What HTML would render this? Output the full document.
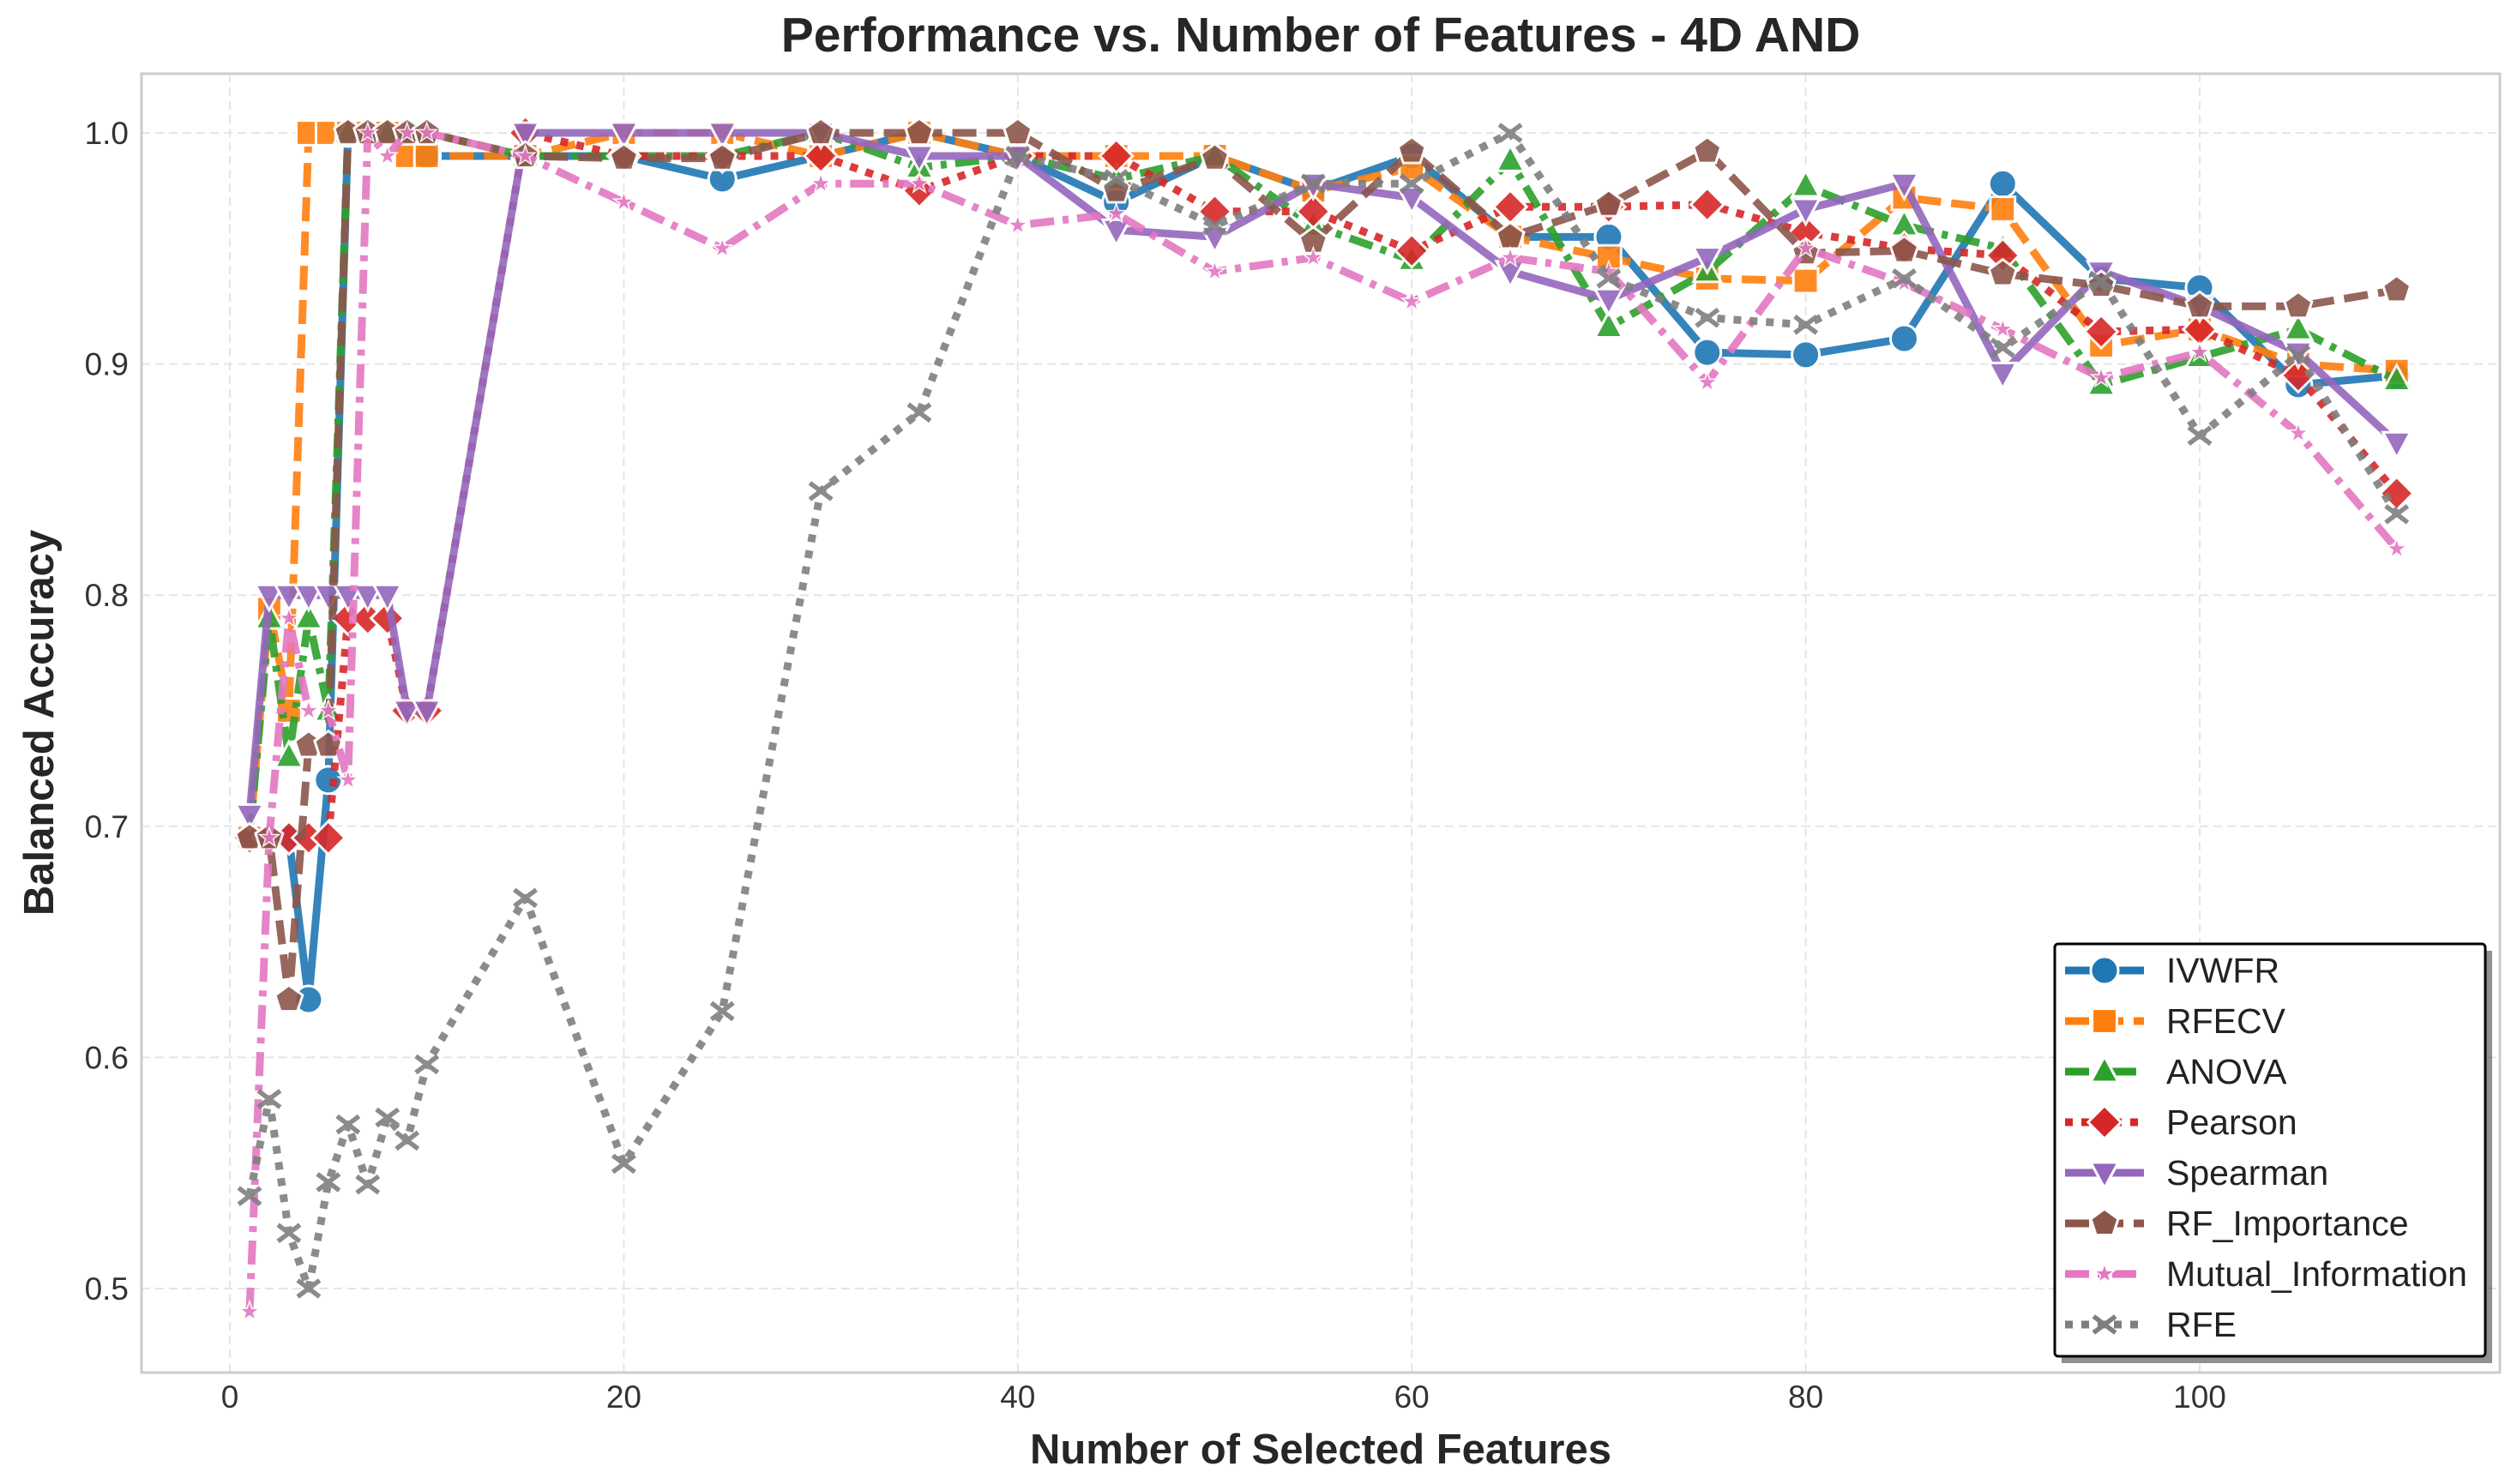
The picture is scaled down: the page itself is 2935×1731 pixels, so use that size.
<!DOCTYPE html>
<html><head><meta charset="utf-8"><style>
body{margin:0;background:#fff;}
svg{display:block;font-family:"Liberation Sans",sans-serif;}
</style></head><body>
<svg id="chart" width="2935" height="1731" viewBox="0 0 2935 1731" xmlns="http://www.w3.org/2000/svg">
<rect width="2935" height="1731" fill="#fff"/>
<text x="1540" y="60" text-anchor="middle" font-size="57" font-weight="bold" fill="#262626">Performance vs. Number of Features - 4D AND</text>
<g id="grid"></g>
<rect x="165" y="86" width="2750" height="1515" fill="none" stroke="#cccccc" stroke-width="3"/>
<g id="series"></g>
<g id="ticks"></g>
<text x="1540" y="1707" text-anchor="middle" font-size="49" font-weight="bold" fill="#262626">Number of Selected Features</text>
<text transform="translate(62,843) rotate(-90)" text-anchor="middle" font-size="49" font-weight="bold" fill="#262626">Balanced Accuracy</text>
<g id="legend"></g>
</svg>
<script>
const xs=[1,2,3,4,5,6,7,8,9,10,15,20,25,30,35,40,45,50,55,60,65,70,75,80,85,90,95,100,105,110];
const ivwfr=[0.695,0.695,0.695,0.625,0.72,1.0,1.0,1.0,1.0,0.99,0.99,0.99,0.98,0.99,1.0,0.99,0.97,0.99,0.975,0.99,0.955,0.955,0.905,0.904,0.911,0.978,0.937,0.933,0.891,0.895];
const rfecv=[0.695,0.794,0.75,1.0,1.0,1.0,1.0,1.0,0.99,0.99,0.99,1.0,1.0,0.99,1.0,0.99,0.99,0.99,0.975,0.985,0.955,0.946,0.937,0.936,0.972,0.967,0.908,0.915,0.9,0.897];
const anova=[0.695,0.79,0.73,0.79,0.75,1.0,1.0,1.0,1.0,1.0,0.99,0.99,0.99,1.0,0.985,0.99,0.98,0.99,0.96,0.945,0.988,0.916,0.94,0.977,0.96,0.95,0.891,0.903,0.915,0.893];
const pearson=[0.695,0.695,0.695,0.695,0.695,0.79,0.79,0.79,0.75,0.75,1.0,0.99,0.99,0.99,0.975,0.99,0.99,0.966,0.966,0.949,0.968,0.968,0.969,0.957,0.95,0.947,0.914,0.915,0.895,0.844];
const spearman=[0.705,0.8,0.8,0.8,0.8,0.8,0.8,0.8,0.75,0.75,1.0,1.0,1.0,1.0,0.99,0.99,0.958,0.955,0.978,0.972,0.94,0.928,0.946,0.967,0.978,0.896,0.94,0.925,0.905,0.866];
const rfImp=[0.695,0.695,0.625,0.735,0.735,1.0,1.0,1.0,1.0,1.0,0.99,0.989,0.989,1.0,1.0,1.0,0.975,0.989,0.953,0.992,0.955,0.969,0.992,0.948,0.949,0.939,0.934,0.925,0.925,0.932];
const mutual=[0.49,0.695,0.79,0.75,0.75,0.72,1.0,0.99,1.0,1.0,0.99,0.97,0.95,0.978,0.978,0.96,0.965,0.94,0.946,0.927,0.946,0.94,0.892,0.95,0.935,0.915,0.894,0.905,0.87,0.82];
const rfe=[0.54,0.582,0.524,0.5,0.546,0.571,0.545,0.574,0.564,0.597,0.669,0.554,0.62,0.845,0.879,0.99,0.98,0.96,0.978,0.978,1.0,0.937,0.92,0.917,0.937,0.907,0.936,0.869,0.904,0.835];
const xTicks=[0,20,40,60,80,100];
const yTicks=[0.5,0.6,0.7,0.8,0.9,1.0];
const names=["IVWFR","RFECV","ANOVA","Pearson","Spearman","RF_Importance","Mutual_Information","RFE"];

const X=v=>268+(v-0)*22.97;
const Y=v=>155+(1.0-v)*2696;
const NS="http://www.w3.org/2000/svg";
function mk(t,a,p){const e=document.createElementNS(NS,t);for(const k in a)e.setAttribute(k,a[k]);p.appendChild(e);return e;}
const grid=document.getElementById('grid'),ticks=document.getElementById('ticks'),ser=document.getElementById('series'),leg=document.getElementById('legend');
xTicks.forEach(t=>{
  const l=mk('line',{x1:X(t),x2:X(t),y1:86,y2:1601,stroke:'#e5e5e5','stroke-width':2,'stroke-dasharray':'10,6'},grid);
  
  
  const tx=mk('text',{x:X(t),y:1642,'text-anchor':'middle','font-size':37,fill:'#333'},ticks);tx.textContent=t;
  
  
});
yTicks.forEach(t=>{
  const l=mk('line',{x1:165,x2:2915,y1:Y(t),y2:Y(t),stroke:'#e5e5e5','stroke-width':2,'stroke-dasharray':'10,6'},grid);
  
  
  const tx=mk('text',{x:150,y:Y(t)+13,'text-anchor':'end','font-size':37,fill:'#333'},ticks);tx.textContent=t.toFixed(1);
  
  
});
function marker(kind,cx,cy,c,p,s){
  s=s||16;let e;
  const pts=a=>a.map(q=>(cx+q[0]*s)+','+(cy+q[1]*s)).join(' ');
  const st={fill:c,stroke:'#fff','stroke-width':3};
  if(kind==='o')e=mk('circle',Object.assign({cx:cx,cy:cy,r:s},st),p);
  else if(kind==='s')e=mk('rect',Object.assign({x:cx-s*0.9,y:cy-s*0.9,width:s*1.8,height:s*1.8},st),p);
  else if(kind==='^')e=mk('polygon',Object.assign({points:pts([[0,-1.1],[1,0.75],[-1,0.75]])},st),p);
  else if(kind==='v')e=mk('polygon',Object.assign({points:pts([[0,1.1],[1,-0.75],[-1,-0.75]])},st),p);
  else if(kind==='D')e=mk('polygon',Object.assign({points:pts([[0,-1.2],[1.2,0],[0,1.2],[-1.2,0]])},st),p);
  else if(kind==='p'){const a=[];for(let i=0;i<5;i++){const t=-Math.PI/2+i*2*Math.PI/5;a.push([Math.cos(t)*1.05,Math.sin(t)*1.05]);}e=mk('polygon',Object.assign({points:pts(a)},st),p);}
  else if(kind==='*'){const a=[];for(let i=0;i<10;i++){const t=-Math.PI/2+i*Math.PI/5,r=i%2?0.4:1;a.push([Math.cos(t)*r*0.75,Math.sin(t)*r*0.75]);}e=mk('polygon',Object.assign({points:pts(a)},st,{'stroke-width':1.5}),p);}
  else if(kind==='x'){e=mk('path',{d:`M${cx-s*0.8},${cy-s*0.6}L${cx+s*0.8},${cy+s*0.6}M${cx-s*0.8},${cy+s*0.6}L${cx+s*0.8},${cy-s*0.6}`,stroke:c,'stroke-width':5.5,fill:'none'},p);}
  return e;
}
const series=[
 {d:ivwfr,c:'#1f77b4',dash:'',m:'o'},
 {d:rfecv,c:'#ff7f0e',dash:'28,12',m:'s'},
 {d:anova,c:'#2ca02c',dash:'28,10,7,10',m:'^'},
 {d:pearson,c:'#d62728',dash:'9,10',m:'D'},
 {d:spearman,c:'#9467bd',dash:'',m:'v'},
 {d:rfImp,c:'#8c564b',dash:'28,12',m:'p'},
 {d:mutual,c:'#e377c2',dash:'28,10,7,10',m:'*'},
 {d:rfe,c:'#7f7f7f',dash:'9,10',m:'x'}
];
series.forEach((s,i)=>{
  const g=mk('g',{opacity:0.9},ser);
  
  
  const pl=mk('polyline',{points:s.d.map((v,j)=>X(xs[j])+','+Y(v)).join(' '),fill:'none',stroke:s.c,'stroke-width':9,'stroke-dasharray':s.dash,'stroke-linejoin':'round'},g);
  
  
  s.d.forEach((v,j)=>{
    const e=marker(s.m,X(xs[j]),Y(v),s.c,g);
    
    
  });
});
// legend
mk('rect',{x:2404,y:1109,width:502,height:481,fill:'#222',opacity:0.5},leg);
const box=mk('rect',{x:2396,y:1101,width:502,height:481,fill:'#fff',stroke:'#000','stroke-width':3,rx:4},leg);


series.forEach((s,i)=>{
  const y=1132+i*59;
  const g=mk('g',{},leg);
  
  
  mk('line',{x1:2408,x2:2500,y1:y,y2:y,stroke:s.c,'stroke-width':9,'stroke-dasharray':s.dash},g);
  marker(s.m,2454,y,s.c,g);
  const t=mk('text',{x:2526,y:y+14,'font-size':41,fill:'#222'},g);t.textContent=names[i];
});
</script>
</body></html>
